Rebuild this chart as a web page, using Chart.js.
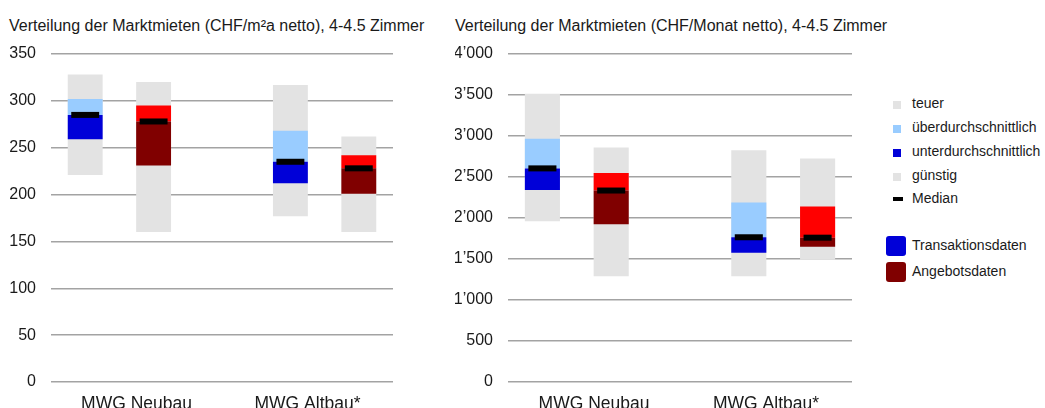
<!DOCTYPE html>
<html>
<head>
<meta charset="utf-8">
<script src="https://cdn.jsdelivr.net/npm/chart.js@4.4.1/dist/chart.umd.min.js"></script>
<style>
  html, body { margin: 0; padding: 0; background: #fff; overflow: hidden; }
  body { width: 1045px; height: 408px; position: relative; font-family: "Liberation Sans", Arial, sans-serif; color: #1a1a1a; }
  .box { position: absolute; top: 0; height: 427px; }
  #left { left: 8px; width: 390px; }
  #right { left: 455px; width: 400px; }
  .title { position: absolute; top: 16px; font-size: 16px; line-height: 19px; white-space: nowrap; }
  .legend { position: absolute; left: 0; top: 0; font-size: 14px; }
  .legend div { position: absolute; white-space: nowrap; }
  .sw { position: absolute; }
</style>
</head>
<body>
<div class="title" id="titleLeft" style="left:9px"></div>
<div class="title" id="titleRight" style="left:455px"></div>
<div class="box" id="left"><canvas id="chartM2"></canvas></div>
<div class="box" id="right"><canvas id="chartMonat"></canvas></div>
<div class="legend" id="legend"></div>
<script>
// categories
const categories = ["MWG Neubau", "MWG Altbau*"];

// each bar: [low, q1, median, q3, high]
// CHF/m²a netto
const m2TransNeubau = [221, 259, 285, 302, 328];
const m2OfferNeubau = [160, 231, 278, 295, 320];
const m2TransAltbau = [177, 212, 235, 268, 317];
const m2OfferAltbau = [160, 201, 228, 242, 262];

// CHF/Monat netto
const monTransNeubau = [1960, 2340, 2605, 2965, 3515];
const monOfferNeubau = [1290, 1925, 2335, 2550, 2860];
const monTransAltbau = [1290, 1575, 1765, 2190, 2825];
const monOfferAltbau = [1490, 1650, 1760, 2140, 2725];

const m2Ticks = { min: 0, max: 350, step: 50 };
const monTicks = { min: 0, max: 4000, step: 500 };

const titleM2 = "Verteilung der Marktmieten (CHF/m²a netto), 4-4.5 Zimmer";
const titleMon = "Verteilung der Marktmieten (CHF/Monat netto), 4-4.5 Zimmer";

const GRAY = "#e3e3e3";
const LIGHTBLUE = "#99ccff";
const BLUE = "#0000d8";
const RED = "#ff0000";
const DARKRED = "#800000";

document.getElementById("titleLeft").textContent = titleM2;
document.getElementById("titleRight").textContent = titleMon;

// slots: trans / offer per category with an empty slot between categories
const slots = [];
categories.forEach((c, i) => {
  if (i > 0) slots.push("");
  slots.push(c + " T", c + " A");
});

function slotBars(transN, offerN, transA, offerA) {
  return [transN, offerN, null, transA, offerA];
}

const medianMarks = {
  id: "medianMarks",
  afterDatasetsDraw(chart) {
    const ctx = chart.ctx;
    chart.data.datasets.forEach((ds, i) => {
      if (!ds.median) return;
      chart.getDatasetMeta(i).data.forEach((bar, j) => {
        if (ds.data[j] == null) return;
        const w = bar.width * 0.8;
        ctx.save();
        ctx.fillStyle = "#000";
        ctx.fillRect(bar.x - w / 2, bar.y - 3, w, 6);
        ctx.restore();
      });
    });
  }
};

function makeChart(id, bars, ticks, yWidth, padRight, fmt) {
  const pick = (k) => bars.map(b => (b ? b[k] : null));
  const range = (a, b) => bars.map(v => (v ? [v[a], v[b]] : null));
  const isTrans = [true, false, null, true, false];
  const lowColors = isTrans.map(t => (t ? BLUE : DARKRED));
  const highColors = isTrans.map(t => (t ? LIGHTBLUE : RED));
  const common = { xAxisID: "slot", grouped: false, barPercentage: 0.51, categoryPercentage: 1 };

  // first dataset is drawn on top
  return new Chart(document.getElementById(id), {
    type: "bar",
    data: {
      labels: slots,
      datasets: [
        Object.assign({ label: "Median", median: true, data: pick(2).map(m => (m == null ? null : [m, m])), backgroundColor: "rgba(0,0,0,0)" }, common),
        Object.assign({ label: "unten", data: range(1, 2), backgroundColor: lowColors }, common),
        Object.assign({ label: "oben", data: range(2, 3), backgroundColor: highColors }, common),
        Object.assign({ label: "Spanne", data: range(0, 4), backgroundColor: GRAY }, common)
      ]
    },
    options: {
      responsive: true,
      maintainAspectRatio: false,
      animation: false,
      layout: { padding: { left: 0, right: padRight, top: 54, bottom: 0 } },
      plugins: {
        legend: { display: false },
        tooltip: { enabled: false }
      },
      scales: {
        slot: {
          type: "category",
          labels: slots,
          offset: true,
          display: false
        },
        x: {
          type: "category",
          labels: categories,
          offset: true,
          grid: { display: false, drawTicks: false },
          border: { display: false },
          ticks: { color: "#1a1a1a", padding: 12, font: { family: "Liberation Sans", size: 17.5 } }
        },
        y: {
          stacked: false,
          min: ticks.min,
          max: ticks.max,
          grid: { color: "#a3a3a3", lineWidth: 1.5, drawTicks: false },
          border: { display: false },
          ticks: {
            stepSize: ticks.step,
            padding: 15,
            color: "#1a1a1a",
            font: { family: "Liberation Sans", size: 16 },
            callback: fmt
          },
          afterFit: s => { s.width = yWidth; }
        }
      }
    },
    plugins: [medianMarks]
  });
}

const apos = v => String(v).replace(/\B(?=(\d{3})+(?!\d))/g, "\u2019");

makeChart("chartM2",
  slotBars(m2TransNeubau, m2OfferNeubau, m2TransAltbau, m2OfferAltbau),
  m2Ticks, 43, 5, v => v);
makeChart("chartMonat",
  slotBars(monTransNeubau, monOfferNeubau, monTransAltbau, monOfferAltbau),
  monTicks, 53, 3, apos);

// legend
const legendItems = [
  { text: "teuer", color: GRAY, y: 104 },
  { text: "überdurchschnittlich", color: LIGHTBLUE, y: 128 },
  { text: "unterdurchschnittlich", color: BLUE, y: 152 },
  { text: "günstig", color: GRAY, y: 176 },
  { text: "Median", color: "#000", y: 199, dash: true }
];
const sourceItems = [
  { text: "Transaktionsdaten", color: BLUE, y: 246 },
  { text: "Angebotsdaten", color: DARKRED, y: 272 }
];
const lg = document.getElementById("legend");
legendItems.forEach(it => {
  const sw = document.createElement("span");
  sw.className = "sw";
  sw.style.background = it.color;
  if (it.dash) {
    sw.style.cssText += "left:893px;top:" + (it.y - 2) + "px;width:10px;height:4px;";
  } else {
    sw.style.cssText += "left:893px;top:" + (it.y - 3) + "px;width:8px;height:8px;";
  }
  lg.appendChild(sw);
  const t = document.createElement("div");
  t.textContent = it.text;
  t.style.left = "912px";
  t.style.top = (it.y - 9) + "px";
  lg.appendChild(t);
});
sourceItems.forEach(it => {
  const sw = document.createElement("span");
  sw.className = "sw";
  sw.style.cssText = "left:886px;top:" + (it.y - 10) + "px;width:20px;height:20px;border-radius:3px;background:" + it.color + ";";
  lg.appendChild(sw);
  const t = document.createElement("div");
  t.textContent = it.text;
  t.style.left = "912px";
  t.style.top = (it.y - 9) + "px";
  lg.appendChild(t);
});
</script>
</body>
</html>
